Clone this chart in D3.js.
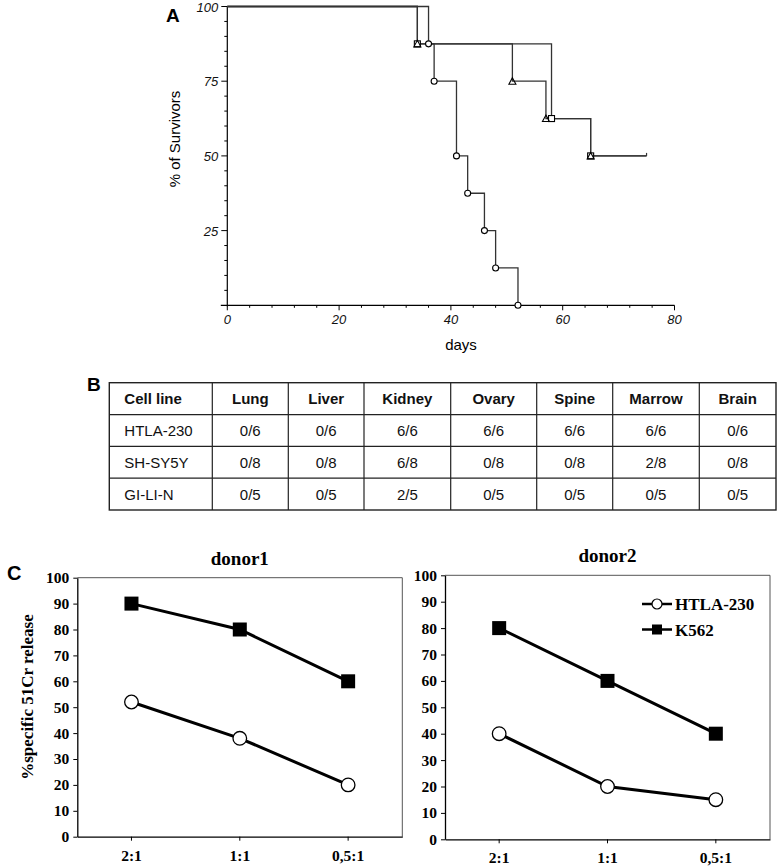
<!DOCTYPE html>
<html><head><meta charset="utf-8">
<script src="https://cdn.jsdelivr.net/npm/d3@7/dist/d3.min.js"></script>
<style>body{margin:0;background:#fff}svg{display:block}</style>
</head><body>
<script>
// ---------- DATA ----------
// Panel A: Kaplan-Meier steps (time of event, survival after event)
const circleTimes = [36, 37, 41, 43, 46, 48, 52];
const circleLevels = [87.5, 75, 50, 37.5, 25, 12.5, 0];
const triangleTimes = [34, 51, 57, 65];
const triangleLevels = [87.5, 75, 62.5, 50];
const squareTimes = [34, 58, 65];
const squareLevels = [87.5, 62.5, 50];
const censorTime = 75;
const survYTicks = [25, 50, 75, 100];
const survXTicks = [0, 20, 40, 60, 80];

// Panel B: table
const tableHeader = ["Cell line", "Lung", "Liver", "Kidney", "Ovary", "Spine", "Marrow", "Brain"];
const cellLines = ["HTLA-230", "SH-SY5Y", "GI-LI-N"];
const htlaRow = ["0/6", "0/6", "6/6", "6/6", "6/6", "6/6", "0/6"];
const shsyRow = ["0/8", "0/8", "6/8", "0/8", "0/8", "2/8", "0/8"];
const gilnRow = ["0/5", "0/5", "2/5", "0/5", "0/5", "0/5", "0/5"];

// Panel C: cytotoxicity
const ratios = ["2:1", "1:1", "0,5:1"];
const donor1HTLA = [52, 38, 20];
const donor1K562 = [90, 80, 60];
const donor2HTLA = [40, 20, 15];
const donor2K562 = [80, 60, 40];
const cYTicks = [0, 10, 20, 30, 40, 50, 60, 70, 80, 90, 100];
const seriesNames = ["HTLA-230", "K562"];

// ---------- DRAW ----------
const W = 777, H = 866;
const svg = d3.select("body").append("svg").attr("width", W).attr("height", H);
const SANS = "'Liberation Sans', Arial, Helvetica, sans-serif";
const SERIF = "'Liberation Serif', 'Times New Roman', serif";

// ===== Panel A =====
const ax = d3.scaleLinear().domain([0, 80]).range([227.3, 674.5]);
const ay = d3.scaleLinear().domain([0, 100]).range([305.3, 6.5]);
const gA = svg.append("g");
const lineCol = "#333";

gA.append("line").attr("x1", ax(0)).attr("x2", ax(0)).attr("y1", ay(100)).attr("y2", ay(0) + 1)
  .attr("stroke", "#000").attr("stroke-width", 1.2);
gA.append("line").attr("x1", ax(0) - 6.5).attr("x2", ax(80)).attr("y1", ay(0)).attr("y2", ay(0))
  .attr("stroke", "#000").attr("stroke-width", 1.2);
d3.range(5, 100.1, 5).forEach(v => {
  const major = v % 25 === 0;
  gA.append("line").attr("x1", ax(0) - (major ? 6 : 3)).attr("x2", ax(0))
    .attr("y1", ay(v)).attr("y2", ay(v)).attr("stroke", "#000").attr("stroke-width", 1);
});
gA.selectAll(".ylab").data(survYTicks).join("text")
  .attr("x", ax(0) - 9).attr("y", d => ay(d) + 5)
  .attr("text-anchor", "end").attr("font-family", SANS).attr("font-style", "italic")
  .attr("font-size", 13).attr("fill", "#111").text(d => d);
d3.range(0, 80.1, 4).forEach(v => {
  const major = v % 20 === 0;
  gA.append("line").attr("x1", ax(v)).attr("x2", ax(v))
    .attr("y1", ay(0)).attr("y2", ay(0) + (major ? 5 : 2.5)).attr("stroke", "#000").attr("stroke-width", 1);
});
gA.selectAll(".xlab").data(survXTicks).join("text")
  .attr("x", d => ax(d)).attr("y", 324)
  .attr("text-anchor", "middle").attr("font-family", SANS).attr("font-style", "italic")
  .attr("font-size", 13).attr("fill", "#111").text(d => d);
gA.append("text").attr("transform", "translate(180,139) rotate(-90)")
  .attr("text-anchor", "middle").attr("font-family", SANS).attr("font-size", 15).text("% of Survivors");
gA.append("text").attr("x", 461).attr("y", 350).attr("text-anchor", "middle")
  .attr("font-family", SANS).attr("font-size", 15).text("days");
gA.append("text").attr("x", 166).attr("y", 22).attr("font-family", SANS).attr("font-weight", "bold")
  .attr("font-size", 19).text("A");

const step = d3.line().x(d => ax(d[0])).y(d => ay(d[1])).curve(d3.curveStepAfter);
function groupPts(times, levels, end) {
  const pts = [[0, 100]];
  times.forEach((t, i) => pts.push([t, levels[i]]));
  if (end != null) pts.push([end, levels[levels.length - 1]]);
  return pts;
}
[[squareTimes, squareLevels, censorTime], [triangleTimes, triangleLevels, censorTime], [circleTimes, circleLevels, null]]
  .forEach(([t, l, e]) => {
    gA.append("path").attr("d", step(groupPts(t, l, e))).attr("fill", "none")
      .attr("stroke", lineCol).attr("stroke-width", 1.3);
  });
gA.append("line").attr("x1", ax(censorTime)).attr("x2", ax(censorTime))
  .attr("y1", ay(50)).attr("y2", ay(50) - 3).attr("stroke", lineCol).attr("stroke-width", 1.2);
circleTimes.forEach((t, i) => {
  gA.append("circle").attr("cx", ax(t)).attr("cy", ay(circleLevels[i])).attr("r", 3)
    .attr("fill", "#fff").attr("stroke", "#000").attr("stroke-width", 1.1);
});
squareTimes.forEach((t, i) => {
  gA.append("rect").attr("x", ax(t) - 3).attr("y", ay(squareLevels[i]) - 3).attr("width", 6).attr("height", 6)
    .attr("fill", "#fff").attr("stroke", "#000").attr("stroke-width", 1.1);
});
triangleTimes.forEach((t, i) => {
  const cx = ax(t), cy = ay(triangleLevels[i]);
  gA.append("path").attr("d", `M${cx},${cy - 3.5}L${cx + 3.5},${cy + 3}L${cx - 3.5},${cy + 3}Z`)
    .attr("fill", "none").attr("stroke", "#000").attr("stroke-width", 1.1);
});

// ===== Panel B =====
const gB = svg.append("g");
gB.append("text").attr("x", 87).attr("y", 391).attr("font-family", SANS).attr("font-weight", "bold")
  .attr("font-size", 19).text("B");
const colEdges = [109.3, 212.3, 288.3, 364, 450.7, 536.7, 612.7, 699.3, 776];
const rowsData = [tableHeader, [cellLines[0], ...htlaRow], [cellLines[1], ...shsyRow], [cellLines[2], ...gilnRow]];
const ry = d3.scaleBand().domain(d3.range(rowsData.length)).range([382.7, 510]);
gB.append("rect").attr("x", colEdges[0]).attr("y", ry.range()[0]).attr("width", colEdges[8] - colEdges[0])
  .attr("height", ry.range()[1] - ry.range()[0]).attr("fill", "none").attr("stroke", "#222").attr("stroke-width", 1.4);
colEdges.slice(1, -1).forEach(x => gB.append("line").attr("x1", x).attr("x2", x)
  .attr("y1", ry.range()[0]).attr("y2", ry.range()[1]).attr("stroke", "#222").attr("stroke-width", 1.2));
d3.range(1, rowsData.length).forEach(r => gB.append("line").attr("x1", colEdges[0]).attr("x2", colEdges[8])
  .attr("y1", ry(r)).attr("y2", ry(r)).attr("stroke", "#222").attr("stroke-width", 1.2));
rowsData.forEach((row, r) => {
  row.forEach((txt, c) => {
    gB.append("text")
      .attr("x", c === 0 ? colEdges[0] + 15 : (colEdges[c] + colEdges[c + 1]) / 2)
      .attr("y", ry(r) + ry.bandwidth() / 2 + 5.5)
      .attr("text-anchor", c === 0 ? "start" : "middle")
      .attr("font-family", SANS).attr("font-size", 15)
      .attr("font-weight", r === 0 ? "bold" : "normal").attr("fill", "#111").text(txt);
  });
});

// ===== Panel C =====
svg.append("text").attr("x", 7).attr("y", 580).attr("font-family", SANS).attr("font-weight", "bold")
  .attr("font-size", 20).text("C");
svg.append("text").attr("transform", "translate(33,697) rotate(-90)").attr("text-anchor", "middle")
  .attr("font-family", SERIF).attr("font-weight", "bold").attr("font-size", 17).text("%specific 51Cr release");

function cChart(x0, x1, y0, y1, title, htla, k562, legend) {
  const g = svg.append("g");
  const x = d3.scaleBand().domain(ratios).range([x0, x1]);
  const y = d3.scaleLinear().domain([0, 100]).range([y0, y1]);
  const cx = d => x(d) + x.bandwidth() / 2;
  g.append("path").attr("d", `M${x0},${y1}H${x1}V${y0}`).attr("fill", "none")
    .attr("stroke", "#555").attr("stroke-width", 1);
  const ya = g.append("g").attr("transform", `translate(${x0},0)`)
    .call(d3.axisLeft(y).tickValues(cYTicks).tickSize(4).tickPadding(4).tickSizeOuter(0));
  ya.select(".domain").attr("stroke", "#000").attr("stroke-width", 1.3);
  ya.selectAll("text").attr("font-family", SERIF).attr("font-weight", "bold").attr("font-size", 15.5).attr("fill", "#000");
  const xa = g.append("g").attr("transform", `translate(0,${y0})`)
    .call(d3.axisBottom(x).tickSize(4).tickPadding(9).tickSizeOuter(0));
  xa.select(".domain").attr("stroke", "#000").attr("stroke-width", 1.3);
  xa.selectAll("text").attr("font-family", SERIF).attr("font-weight", "bold").attr("font-size", 15.5).attr("fill", "#000");
  g.append("text").attr("x", (x0 + x1) / 2).attr("y", y1 - 13).attr("text-anchor", "middle")
    .attr("font-family", SERIF).attr("font-weight", "bold").attr("font-size", 19).text(title);
  const line = d3.line().x((d, i) => cx(ratios[i])).y(d => y(d));
  [htla, k562].forEach(s => g.append("path").attr("d", line(s)).attr("fill", "none")
    .attr("stroke", "#000").attr("stroke-width", 3));
  htla.forEach((v, i) => g.append("circle").attr("cx", cx(ratios[i])).attr("cy", y(v)).attr("r", 6.8)
    .attr("fill", "#fff").attr("stroke", "#000").attr("stroke-width", 1.3));
  k562.forEach((v, i) => g.append("rect").attr("x", cx(ratios[i]) - 7).attr("y", y(v) - 7)
    .attr("width", 14).attr("height", 14).attr("fill", "#000"));
  if (legend) {
    const lx = 642, ly = [604, 629.5];
    seriesNames.forEach((nm, i) => {
      g.append("line").attr("x1", lx).attr("x2", lx + 30).attr("y1", ly[i]).attr("y2", ly[i])
        .attr("stroke", "#000").attr("stroke-width", 2.5);
      if (i === 0) g.append("circle").attr("cx", lx + 15).attr("cy", ly[i]).attr("r", 5)
        .attr("fill", "#fff").attr("stroke", "#000").attr("stroke-width", 1.2);
      else g.append("rect").attr("x", lx + 10).attr("y", ly[i] - 5).attr("width", 10).attr("height", 10).attr("fill", "#000");
      g.append("text").attr("x", lx + 33).attr("y", ly[i] + 6).attr("font-family", SERIF)
        .attr("font-weight", "bold").attr("font-size", 17).text(nm);
    });
  }
}
cChart(77.3, 402.3, 836.7, 577.7, "donor1", donor1HTLA, donor1K562, false);
cChart(445, 770, 839.3, 575.3, "donor2", donor2HTLA, donor2K562, true);
</script>
</body></html>
